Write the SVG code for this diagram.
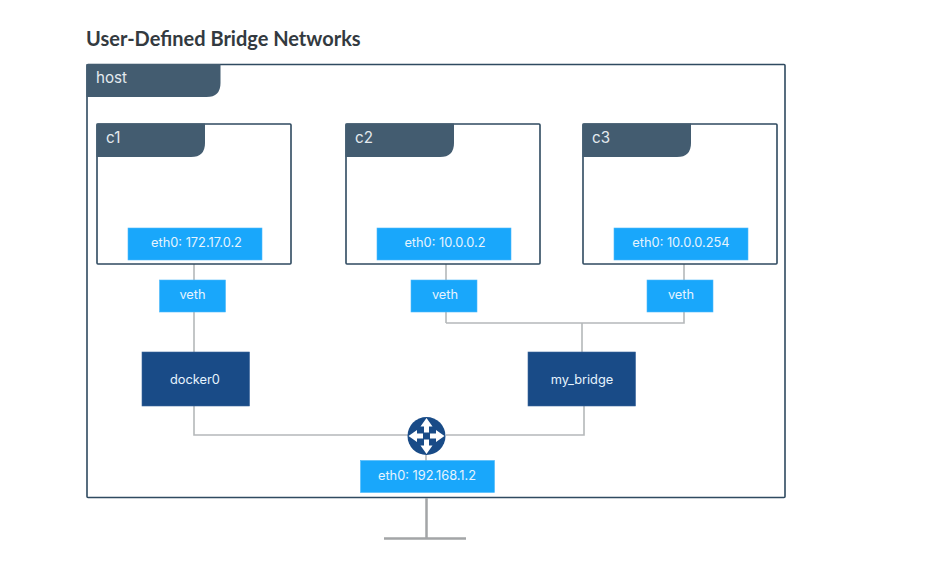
<svg xmlns="http://www.w3.org/2000/svg" width="941" height="561" viewBox="0 0 941 561">
<style>
text{font-family:Inter,"Liberation Sans",sans-serif}
.frame{fill:#fff;stroke:#2f4a60;stroke-width:1.6}
.tab{fill:#435c70}
.tl{fill:#e4eaef;font-size:15.2px}
.box{fill:#19a7fb;stroke:#4db9fb;stroke-width:.6}
.dark{fill:#194b87;stroke:#3a659b;stroke-width:.6}
.l{fill:#e6f4fe;font-size:12.8px;text-anchor:middle}
.w{fill:none;stroke:#b5b8ba;stroke-width:1.6}
</style>
<rect width="941" height="561" fill="#fff"/>
<text x="86" y="46" style="font-family:Lato,sans-serif;font-size:20px;font-weight:700" fill="#333a40">User-Defined Bridge Networks</text>
<g id="host">
<rect class="frame" x="87" y="64.500" width="698" height="433" rx="1"/>
<path class="tab" d="M86.500 64H220.500V83Q220.500 97 206.500 97H86.500Z"/>
<text class="tl" x="96" y="82.500">host</text>
</g>
<g id="connectors">
<path class="w" d="M194 264V352M194 406V435H408M446 435H584V406M446 264V323M684 264V323H446M582 323V352"/>
<path class="w" d="M426 455V462"/>
<path d="M426.500 498V538M384 538.500H466" fill="none" stroke="#a3a5a7" stroke-width="2.500"/>
</g>
<g id="c1">
<rect class="frame" x="97" y="124" width="194" height="140" rx="1"/>
<path class="tab" d="M96.500 123.500H205V143Q205 157 191 157H96.500Z"/>
<text class="tl" x="106" y="143">c1</text>
</g>
<g id="c2">
<rect class="frame" x="346" y="124" width="194" height="140" rx="1"/>
<path class="tab" d="M345.500 123.500H454V143Q454 157 440 157H345.500Z"/>
<text class="tl" x="355" y="143">c2</text>
</g>
<g id="c3">
<rect class="frame" x="583" y="124" width="194" height="140" rx="1"/>
<path class="tab" d="M582.500 123.500H691V143Q691 157 677 157H582.500Z"/>
<text class="tl" x="592" y="143">c3</text>
</g>
<g id="eth0-c1"><rect class="box" x="128" y="228" width="134" height="32"/><text class="l" x="196.500" y="247">eth0: 172.17.0.2</text></g>
<g id="eth0-c2"><rect class="box" x="377" y="228" width="134" height="32"/><text class="l" x="445" y="247">eth0: 10.0.0.2</text></g>
<g id="eth0-c3"><rect class="box" x="614" y="228" width="134" height="32"/><text class="l" x="681" y="247">eth0: 10.0.0.254</text></g>
<g id="veth1"><rect class="box" x="159.500" y="280" width="66" height="32"/><text class="l" x="192.500" y="298.500">veth</text></g>
<g id="veth2"><rect class="box" x="411" y="280" width="66" height="32"/><text class="l" x="445" y="298.500">veth</text></g>
<g id="veth3"><rect class="box" x="647" y="280" width="66" height="32"/><text class="l" x="681" y="298.500">veth</text></g>
<g id="docker0"><rect class="dark" x="142" y="352" width="107.500" height="54"/><text class="l" x="195" y="384">docker0</text></g>
<g id="my_bridge"><rect class="dark" x="528" y="352" width="107.500" height="54"/><text class="l" x="582" y="384">my_bridge</text></g>
<g id="router">
<circle cx="426.500" cy="436" r="19" fill="#194b87"/>
<path fill="#fff" d="M426.500 418l6 8.500h-3.500v6h-5v-6H420.500ZM426.500 454l6-8.500h-3.500v-6h-5v6H420.500ZM408.500 436l8.500-6v3.500h6v5h-6v3.500ZM444.500 436l-8.500-6v3.500h-6v5h6v3.500Z"/>
</g>
<g id="eth0-host"><rect class="box" x="360.500" y="460.500" width="134" height="32"/><text class="l" x="427" y="480">eth0: 192.168.1.2</text></g>
</svg>
